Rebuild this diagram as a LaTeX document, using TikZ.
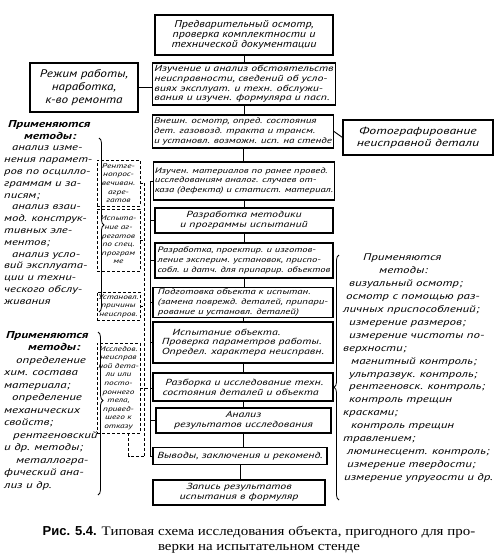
\documentclass[tikz,border=0pt]{standalone}
\usepackage{fontspec}
\setmainfont{Liberation Serif}
\newfontfamily\diag[FakeStretch=1.2]{PT Sans}
\newfontfamily\diagw[FakeStretch=1.35]{PT Sans}
\newfontfamily\capsans{Liberation Sans}
\newfontfamily\capserif[FakeStretch=1.15]{Liberation Serif}
\usetikzlibrary{decorations.pathreplacing}
\newcommand\bsz[1]{\fontsize{#1}{9.8}\selectfont}
\tikzset{
  x=1pt, y=-1pt,
  mainbox/.style={draw, line width=1.1pt, minimum width=178pt, inner sep=1.5pt,
    font=\diagw\itshape\fontsize{8.8}{9.8}\selectfont},
  sidebox/.style={draw, line width=1.1pt, inner sep=2pt, align=center},
  dbox/.style={draw, line width=0.7pt, dash pattern=on 3pt off 2pt, minimum width=43pt,
    inner sep=1pt, align=center, font=\diagw\itshape\fontsize{6.9}{8.6}\selectfont},
  conn/.style={line width=0.9pt},
  dconn/.style={line width=0.7pt, dash pattern=on 3pt off 2pt},
  brc/.style={decorate, line width=0.8pt},
  note/.style={align=left, inner sep=0pt, anchor=north west},
}
\begin{document}
\begin{tikzpicture}
\useasboundingbox (0,0) rectangle (496,560);

% main column
\node[mainbox, minimum height=40pt, align=center, font=\diag\itshape\fontsize{10}{10.4}\selectfont] (b1) at (244,35)
  {Предварительный осмотр,\\ проверка комплектности и\\ технической документации};
\node[mainbox, minimum height=42pt, align=left] (b2) at (244,84)
  {Изучение и анализ обстоятельств\\ неисправности, сведений об усло-\\ виях эксплуат. и техн. обслужи-\\ вания и изучен. формуляра и пасп.};
\node[mainbox, minimum width=180pt, minimum height=33pt, align=left, font=\diagw\itshape\bsz{8.2}] (b3) at (243,131.5)
  {Внешн. осмотр, опред. состояния\\ дет. газовозд. тракта и трансм.\\ и установл. возможн. исп. на стенде};
\node[mainbox, minimum height=38pt, align=left, font=\diagw\itshape\bsz{7.9}] (b4) at (244,181)
  {Изучен. материалов по ранее провед.\\ исследованиям аналог. случаев от-\\ каза (дефекта) и статист. материал.};
\node[mainbox, minimum height=25pt, align=center] (b5) at (244,220.5)
  {Разработка методики\\ и программы испытаний};
\node[mainbox, minimum height=35pt, align=left, font=\diagw\itshape\bsz{7.8}] (b6) at (244,260.5)
  {Разработка, проектир. и изготов-\\ ление эксперим. установок, приспо-\\ собл. и датч. для припарир. объектов};
\node[mainbox, minimum width=180pt, minimum height=27pt, align=left, font=\diagw\itshape\bsz{8.0}] (b7) at (243,302.5)
  {Подготовка объекта к испытан.\\ (замена поврежд. деталей, припари-\\ рование и установл. деталей)};
\node[mainbox, minimum width=180pt, minimum height=41pt, align=left] (b8) at (243,342.5)
  {\hspace*{1.2em}Испытание объекта.\\ Проверка параметров работы.\\ Определ. характера неисправн.};
\node[mainbox, minimum width=180pt, minimum height=28pt, align=left] (b9) at (243,387)
  {\hspace*{0.3em}Разборка и исследование техн.\\ состояния деталей и объекта};
\node[mainbox, minimum width=175pt, minimum height=25pt, align=center] (b10) at (243.5,420.5)
  {Анализ\\ результатов исследования};
\node[mainbox, minimum width=174pt, minimum height=17pt, align=left] (b11) at (240,456)
  {Выводы, заключения и рекоменд.};
\node[mainbox, minimum width=172pt, minimum height=25pt, align=center] (b12) at (239,492.5)
  {Запись результатов\\ испытания в формуляр};

\foreach \a/\b in {b1/b2,b2/b3,b3/b4,b4/b5,b5/b6,b6/b7,b7/b8,b8/b9,b9/b10,b10/b11,b11/b12}
  \draw[conn] (\a.south) -- (\a.south |- \b.north);

% side boxes
\node[sidebox, minimum width=108pt, minimum height=49pt, font=\diag\itshape\fontsize{11}{13}\selectfont] (reg) at (84,87.5)
  {Режим работы,\\ наработка,\\ к-во ремонта};
\draw[conn] (reg.east) -- (reg.east -| b2.west);
\node[sidebox, minimum width=150pt, minimum height=35pt, font=\diagw\itshape\fontsize{10.2}{12}\selectfont] (photo) at (418,137.5)
  {Фотографирование\\ неисправной детали};
\draw[conn] (b3.east) -- (photo.west);

% dashed boxes
\node[dbox, minimum height=46pt] (d1) at (118.5,183) {Рентге-\\нопрос-\\вечиван.\\агре-\\гатов};
\node[dbox, minimum height=62pt] (d2) at (118.5,240) {Испыта-\\ние аг-\\регатов\\по спец.\\програм\\ме};
\node[dbox, minimum height=28pt] (d3) at (118.5,306) {Установл.\\причины\\неиспров.};
\node[dbox, minimum height=90pt] (d4) at (118.5,388) {Исследов.\\неисправ\\ной дета-\\ли или\\посто-\\роннего\\тела,\\привед-\\шего к\\отказу};

% buses
\coordinate (bt) at (150,181);
\coordinate (bb) at (150,456);
\draw[conn] (bt) -- (bb);
\foreach \b in {b4,b5,b6,b7,b8,b10,b11}
  \draw[conn] (\b.west) -- (\b.west -| bt);
\coordinate (dt) at (144,183);
\coordinate (db) at (144,456);
\draw[dconn] (dt) -- (db);
\foreach \d in {d1,d2,d3}
  \draw[dconn] (\d.east) -- (\d.east -| dt);
\draw[dconn] (d4.east) -- (d4.east -| b9.west);
\draw[dconn] ([xshift=10pt]d4.south) |- (db);

% braces
\coordinate (ula) at (99,138);
\coordinate (ulb) at (99,312);
\draw[brc, decoration={brace, amplitude=5pt}] (ula) -- (ulb);
\coordinate (lla) at (98,332);
\coordinate (llb) at (98,495);
\draw[brc, decoration={brace, amplitude=5pt, aspect=0.42}] (lla) -- (llb);
\coordinate (ra) at (339,500);
\coordinate (rb) at (339,255);
\draw[brc, decoration={brace, amplitude=5pt, aspect=0.46}] (ra) -- (rb);

% method notes
\node[note, font=\diagw\itshape\fontsize{9.4}{11.8}\selectfont] (m1) at (4,120)
  {\hspace*{4pt}{\bfseries\fontsize{10}{11.8}\selectfont Применяются}\\
   \hspace*{20pt}{\bfseries\fontsize{10}{11.8}\selectfont методы:}\\
   \hspace*{8pt}анализ изме-\\
   нения парамет-\\
   ров по осцилло-\\
   граммам и за-\\
   писям;\\
   \hspace*{8pt}анализ взаи-\\
   мод. конструк-\\
   тивных эле-\\
   ментов;\\
   \hspace*{8pt}анализ усло-\\
   вий эксплуата-\\
   ции и техни-\\
   ческого обслу-\\
   живания};

\node[note, font=\diagw\itshape\fontsize{9.6}{12.5}\selectfont] (m2) at (4,331)
  {\hspace*{2pt}{\bfseries\fontsize{10}{12.5}\selectfont Применяются}\\
   \hspace*{24pt}{\bfseries\fontsize{10}{12.5}\selectfont методы:}\\
   \hspace*{12pt}определение\\
   хим. состава\\
   материала;\\
   \hspace*{8pt}определение\\
   механических\\
   свойств;\\
   \hspace*{9pt}рентгеновский\\
   и др. методы;\\
   \hspace*{12pt}металлогра-\\
   фический ана-\\
   лиз и др.};

\node[note, font=\diagw\itshape\fontsize{9.6}{12.9}\selectfont] (m3) at (343,254)
  {\hspace*{20pt}Применяются\\
   \hspace*{36pt}методы:\\
   \hspace*{6pt}визуальный осмотр;\\
   \hspace*{3pt}осмотр с помощью раз-\\
   личных приспособлений;\\
   \hspace*{6pt}измерение размеров;\\
   \hspace*{6pt}измерение чистоты по-\\
   верхности;\\
   \hspace*{8pt}магнитный контроль;\\
   \hspace*{6pt}ультразвук. контроль;\\
   \hspace*{6pt}рентгеновск. контроль;\\
   \hspace*{6pt}контроль трещин\\
   красками;\\
   \hspace*{8pt}контроль трещин\\
   травлением;\\
   \hspace*{4pt}люминесцент. контроль;\\
   \hspace*{4pt}измерение твердости;\\
   \hspace*{1pt}измерение упругости и др.};

% caption
\node[align=center, inner sep=0pt, font=\capserif\fontsize{13}{15}\selectfont] (cap) at (259,540)
  {{\capsans\bfseries Рис. 5.4.} Типовая схема исследования объекта, пригодного для про-\\
   верки на испытательном стенде};
\end{tikzpicture}
\end{document}
